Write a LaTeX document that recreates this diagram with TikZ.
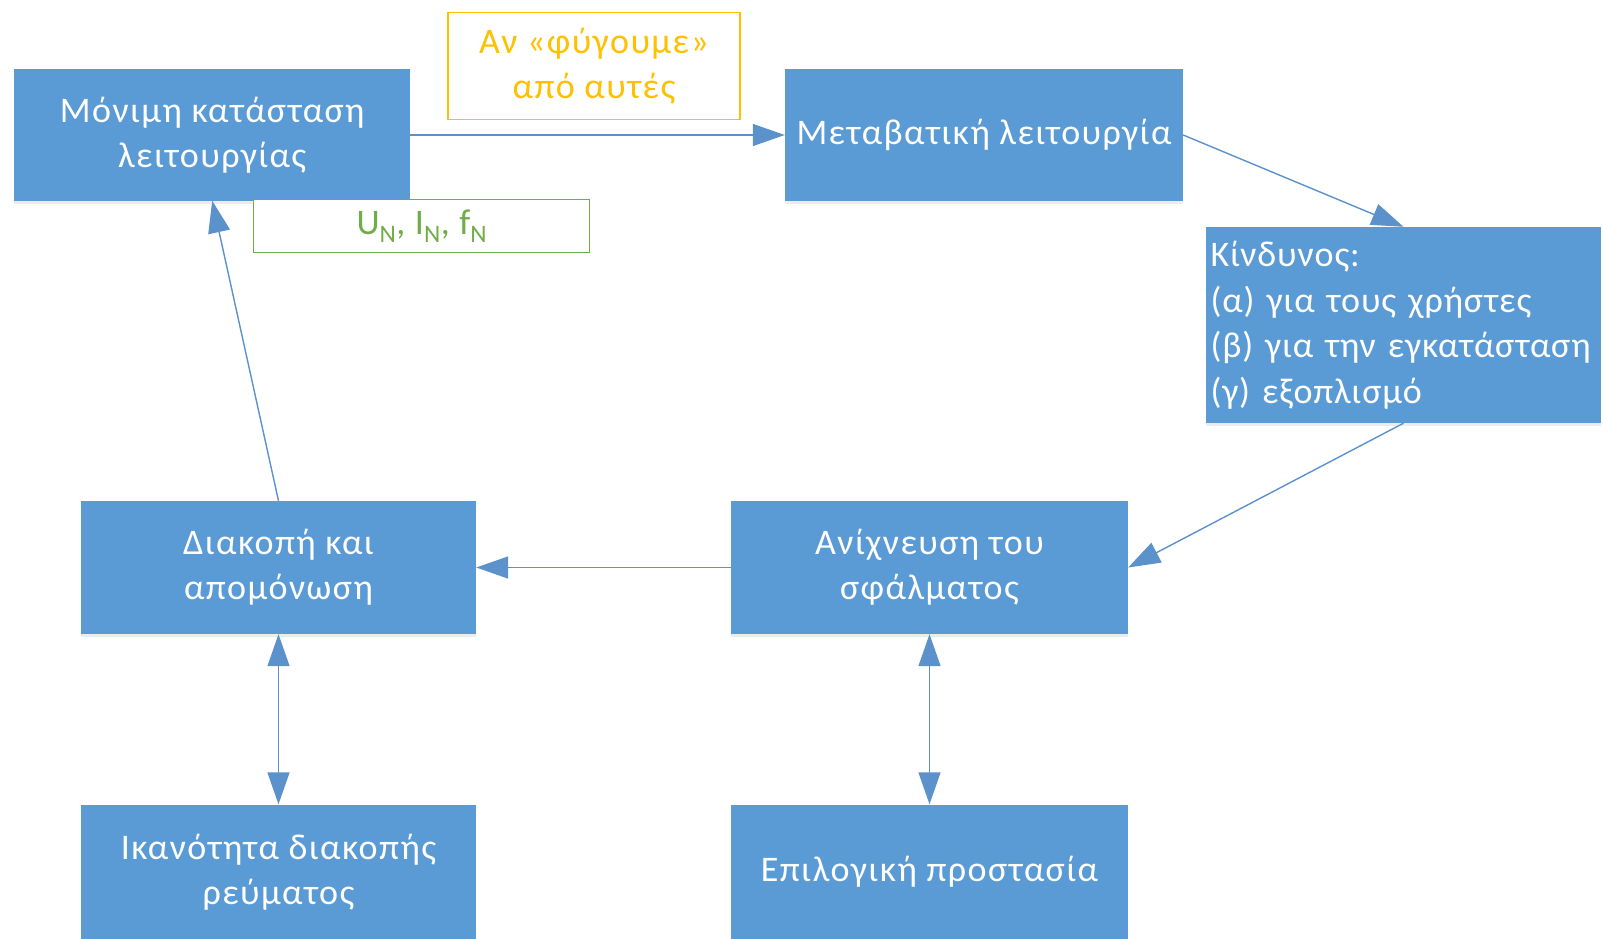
\documentclass[tikz,border=0pt]{standalone}
\usepackage{fontspec}
\setmainfont{Carlito}[LetterSpace=4]
\newfontfamily\tightfont{Carlito}[LetterSpace=2.5]
\usetikzlibrary{arrows.meta,shadows}
\definecolor{boxblue}{HTML}{5B9BD5}
\definecolor{linkblue}{HTML}{5B92CC}
\definecolor{gold}{HTML}{FFC000}
\definecolor{leaf}{HTML}{70AD47}
\tikzset{
  blk/.style={rectangle, fill=boxblue, text=white, inner sep=0pt, align=center,
    drop shadow={opacity=0.15, shadow xshift=0pt, shadow yshift=-3pt},
    font=\fontsize{36}{45}\selectfont},
  tag/.style={rectangle, fill=white, inner sep=0pt, align=center, line width=1.3pt,
    font=\fontsize{36}{45}\selectfont},
  link/.style={draw=linkblue, line width=1.4pt, -{Triangle[length=32pt,width=22pt]}},
  dlink/.style={draw=linkblue, line width=1.4pt, {Triangle[length=32pt,width=22pt]}-{Triangle[length=32pt,width=22pt]}}
}
\begin{document}
\begin{tikzpicture}[x=1pt,y=-1pt]
\useasboundingbox[fill=white] (0,0) rectangle (1603,939);
\node[blk, minimum width=396pt, minimum height=131pt] (A) at (212.2,135) {Μόνιμη κατάσταση\\λειτουργίας};
\node[blk, minimum width=398pt, minimum height=131pt] (B) at (984,135) {Μεταβατική λειτουργία};
\node[blk, minimum width=395pt, minimum height=196pt, align=left, text width=386pt,
  font=\tightfont\fontsize{36}{45.5}\selectfont] (C) at (1403.5,325) {Κίνδυνος:\\(α) για τους χρήστες\\(β) για την εγκατάσταση\\(γ) εξοπλισμό};
\node[blk, minimum width=397pt, minimum height=133pt] (D) at (929.5,567.5) {Ανίχνευση του\\σφάλματος};
\node[blk, minimum width=395pt, minimum height=133pt] (E) at (278.5,567.5) {Διακοπή και\\απομόνωση};
\node[blk, minimum width=395pt, minimum height=135pt] (F) at (278.5,872) {Ικανότητα διακοπής\\ρεύματος};
\node[blk, minimum width=397pt, minimum height=135pt] (G) at (929.5,872) {Επιλογική προστασία};
\node[tag, draw=gold, text=gold, minimum width=292pt, minimum height=107pt] (Y) at (594,66) {Αν «φύγουμε»\\από αυτές};
\node[tag, draw=leaf, text=leaf, minimum width=336pt, minimum height=53pt] (Gr) at (421.8,226) {U\textsubscript{N}, I\textsubscript{N}, f\textsubscript{N}};
\draw[link] (A.east) -- (B.west);
\draw[link] (B.east) -- (C.north);
\draw[link] (C.south) -- (D.east);
\draw[link] (D.west) -- (E.east);
\draw[link] (E.north) -- (A.south);
\draw[dlink] (E.south) -- (F.north);
\draw[dlink] (D.south) -- (G.north);
\end{tikzpicture}
\end{document}
